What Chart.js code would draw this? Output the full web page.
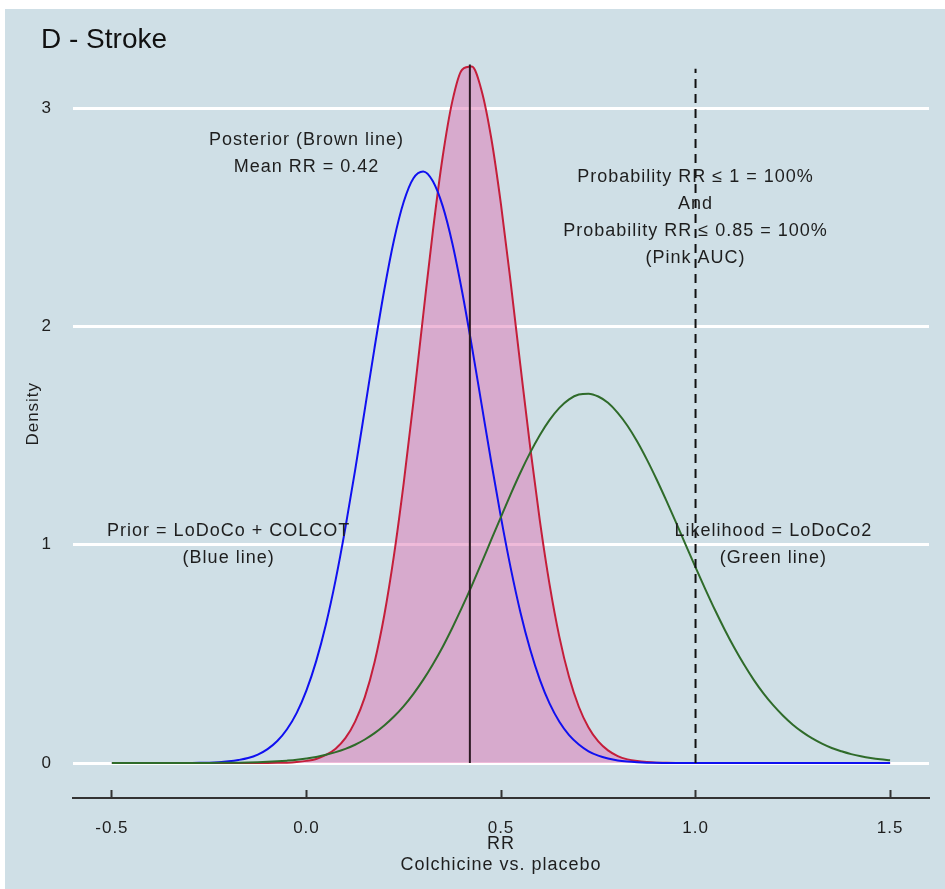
<!DOCTYPE html>
<html>
<head>
<meta charset="utf-8">
<script src="https://cdn.jsdelivr.net/npm/chart.js@4"></script>
<style>
  body { margin: 0; background: #fff; }
  #wrap { position: absolute; left: 5px; top: 9px; width: 940px; height: 880px; background: #cfdfe6; }
</style>
</head>
<body>
<div id="wrap"><canvas id="densityChart" width="940" height="880"></canvas></div>
<script>
// RR grid the densities were read on
const rrGrid = [
  -0.5, -0.475, -0.45, -0.425, -0.4, -0.375, -0.35, -0.325, -0.3, -0.275,
  -0.25, -0.225, -0.2, -0.175, -0.15, -0.125, -0.1, -0.075, -0.05, -0.025,
  0, 0.025, 0.05, 0.075, 0.1, 0.125, 0.15, 0.175, 0.2, 0.225,
  0.25, 0.275, 0.3, 0.325, 0.35, 0.375, 0.4, 0.425, 0.45, 0.475,
  0.5, 0.525, 0.55, 0.575, 0.6, 0.625, 0.65, 0.675, 0.7, 0.725,
  0.75, 0.775, 0.8, 0.825, 0.85, 0.875, 0.9, 0.925, 0.95, 0.975,
  1, 1.025, 1.05, 1.075, 1.1, 1.125, 1.15, 1.175, 1.2, 1.225,
  1.25, 1.275, 1.3, 1.325, 1.35, 1.375, 1.4, 1.425, 1.45, 1.475,
  1.5];

// Prior = LoDoCo + COLCOT (blue)
const priorDensity = [
  0, 0, 0, 0, 0, 0, 0.0001, 0.0003, 0.0006, 0.001,
  0.002, 0.004, 0.008, 0.014, 0.023, 0.039, 0.064, 0.101, 0.155, 0.23,
  0.333, 0.467, 0.635, 0.839, 1.077, 1.341, 1.62, 1.902, 2.167, 2.396,
  2.571, 2.679, 2.71, 2.665, 2.552, 2.38, 2.16, 1.91, 1.644, 1.378,
  1.124, 0.893, 0.69, 0.52, 0.381, 0.272, 0.189, 0.128, 0.085, 0.054,
  0.034, 0.021, 0.012, 0.007, 0.004, 0.002, 0.001, 0.0006, 0, 0,
  0, 0, 0, 0, 0, 0, 0, 0, 0, 0,
  0, 0, 0, 0, 0, 0, 0, 0, 0, 0,
  0];

// Posterior (red line, pink area)
const posteriorDensity = [
  0, 0, 0, 0, 0, 0, 0, 0, 0, 0,
  0, 0, 0, 0, 0, 0.0002, 0.0004, 0.001, 0.002, 0.005,
  0.01, 0.019, 0.037, 0.066, 0.114, 0.19, 0.302, 0.462, 0.677, 0.952,
  1.283, 1.656, 2.051, 2.438, 2.776, 3.032, 3.176, 3.19, 3.081, 2.862,
  2.558, 2.199, 1.819, 1.447, 1.108, 0.816, 0.578, 0.394, 0.258, 0.163,
  0.099, 0.058, 0.032, 0.017, 0.009, 0.0045, 0.002, 0.001, 0.0004, 0.0002,
  0, 0, 0, 0, 0, 0, 0, 0, 0, 0,
  0, 0, 0, 0, 0, 0, 0, 0, 0, 0,
  0];

// Likelihood = LoDoCo2 (green)
const likelihoodDensity = [
  0, 0, 0, 0, 0, 0.0001, 0.0001, 0.0002, 0.0002, 0.0004,
  0.0006, 0.0009, 0.0013, 0.0019, 0.0027, 0.0039, 0.0056, 0.0079, 0.011, 0.015,
  0.021, 0.028, 0.038, 0.05, 0.065, 0.084, 0.108, 0.137, 0.172, 0.213,
  0.261, 0.317, 0.381, 0.453, 0.532, 0.62, 0.714, 0.813, 0.917, 1.023,
  1.128, 1.232, 1.331, 1.422, 1.503, 1.572, 1.627, 1.666, 1.688, 1.692,
  1.679, 1.65, 1.604, 1.545, 1.473, 1.39, 1.299, 1.202, 1.101, 0.998,
  0.896, 0.797, 0.701, 0.611, 0.527, 0.45, 0.38, 0.318, 0.264, 0.217,
  0.176, 0.142, 0.113, 0.089, 0.069, 0.054, 0.041, 0.031, 0.023, 0.017,
  0.013];

const xTicks = [-0.5, 0, 0.5, 1, 1.5];
const yTicks = [0, 1, 2, 3];

const meanRR = 0.42;
const meanTop = 3.2;
const cutoffRR = 1.0;
const cutoffTop = 3.18;

const noteX = [0.0, 1.0, -0.2, 1.2];
const noteY = [2.79, 2.5, 1.0, 1.0];
const noteLines = [
  ["Posterior (Brown line)", "Mean RR = 0.42"],
  ["Probability RR \u2264 1 = 100%", "And", "Probability RR \u2264 0.85 = 100%", "(Pink AUC)"],
  ["Prior = LoDoCo + COLCOT", "(Blue line)"],
  ["Likelihood = LoDoCo2", "(Green line)"]
];

const FONT = '"Liberation Sans", Arial, sans-serif';

function toPoints(values) {
  return rrGrid.map((x, i) => ({ x: x, y: values[i] }));
}

const textLayer = {
  id: "textLayer",
  beforeDraw(chart) {
    chart.ctx.letterSpacing = "1px";
  },
  afterDatasetsDraw(chart) {
    const { ctx, scales: { x, y } } = chart;
    ctx.save();
    ctx.fillStyle = "#1e1e1e";
    ctx.font = "18px " + FONT;
    ctx.textAlign = "center";
    ctx.textBaseline = "middle";
    noteLines.forEach((lines, i) => {
      const cx = x.getPixelForValue(noteX[i]);
      const cy = y.getPixelForValue(noteY[i]);
      const top = cy - ((lines.length - 1) * 27) / 2;
      lines.forEach((t, j) => ctx.fillText(t, cx, top + j * 27));
    });
    ctx.letterSpacing = "0px";
    ctx.font = "28px " + FONT;
    ctx.textAlign = "left";
    ctx.textBaseline = "alphabetic";
    ctx.fillStyle = "#111";
    ctx.fillText("D - Stroke", 36, 39);
    ctx.restore();
  }
};

Chart.defaults.font.family = FONT;
Chart.defaults.color = "#1e1e1e";

const ctx = document.getElementById("densityChart").getContext("2d");

new Chart(ctx, {
  type: "line",
  data: {
    datasets: [
      {
        label: "Mean RR",
        data: [{ x: meanRR, y: 0 }, { x: meanRR, y: meanTop }],
        borderColor: "#2b1a22",
        borderWidth: 2,
        order: 0
      },
      {
        label: "RR = 1",
        data: [{ x: cutoffRR, y: 0 }, { x: cutoffRR, y: cutoffTop }],
        borderColor: "#111",
        borderWidth: 2,
        borderDash: [9, 6],
        order: 1
      },
      {
        label: "Likelihood",
        data: toPoints(likelihoodDensity),
        borderColor: "#2f6b2a",
        borderWidth: 2,
        cubicInterpolationMode: "monotone",
        order: 2
      },
      {
        label: "Prior",
        data: toPoints(priorDensity),
        borderColor: "#1010f0",
        borderWidth: 2,
        cubicInterpolationMode: "monotone",
        order: 3
      },
      {
        label: "Posterior",
        data: toPoints(posteriorDensity),
        borderColor: "#c41e3a",
        backgroundColor: "rgba(223, 118, 179, 0.5)",
        borderWidth: 2,
        cubicInterpolationMode: "monotone",
        fill: "origin",
        order: 4
      }
    ]
  },
  options: {
    responsive: false,
    animation: false,
    devicePixelRatio: 1,
    layout: { padding: { top: 20.5, right: 16, bottom: 0, left: 0 } },
    elements: { point: { radius: 0 } },
    plugins: {
      legend: { display: false },
      tooltip: { enabled: false }
    },
    scales: {
      x: {
        type: "linear",
        min: -0.6,
        max: 1.6,
        afterBuildTicks: (s) => { s.ticks = xTicks.map((v) => ({ value: v })); },
        afterFit: (s) => { s.height = 91; },
        grid: { drawOnChartArea: false, drawTicks: true, tickLength: -8, tickColor: "#333", tickWidth: 2 },
        border: { display: true, color: "#333", width: 2 },
        ticks: {
          padding: 28,
          font: { size: 17 },
          maxRotation: 0,
          autoSkip: false,
          callback: (v) => Number(v).toFixed(1)
        },
        title: {
          display: true,
          text: ["RR", "Colchicine vs. placebo"],
          font: { size: 18 },
          padding: { top: 0, bottom: 13 }
        }
      },
      y: {
        min: -0.16,
        max: 3.36,
        afterBuildTicks: (s) => { s.ticks = yTicks.map((v) => ({ value: v })); },
        afterFit: (s) => {
          s.width = 68;
          s.paddingTop = 0;
          s.paddingBottom = 0;
        },
        grid: { color: "#ffffff", lineWidth: 3, drawTicks: false },
        border: { display: false },
        ticks: { padding: 21, font: { size: 17 } },
        title: {
          display: true,
          text: "Density",
          font: { size: 17 },
          padding: { top: 18, bottom: 0 }
        }
      }
    }
  },
  plugins: [textLayer]
});
</script>
</body>
</html>
